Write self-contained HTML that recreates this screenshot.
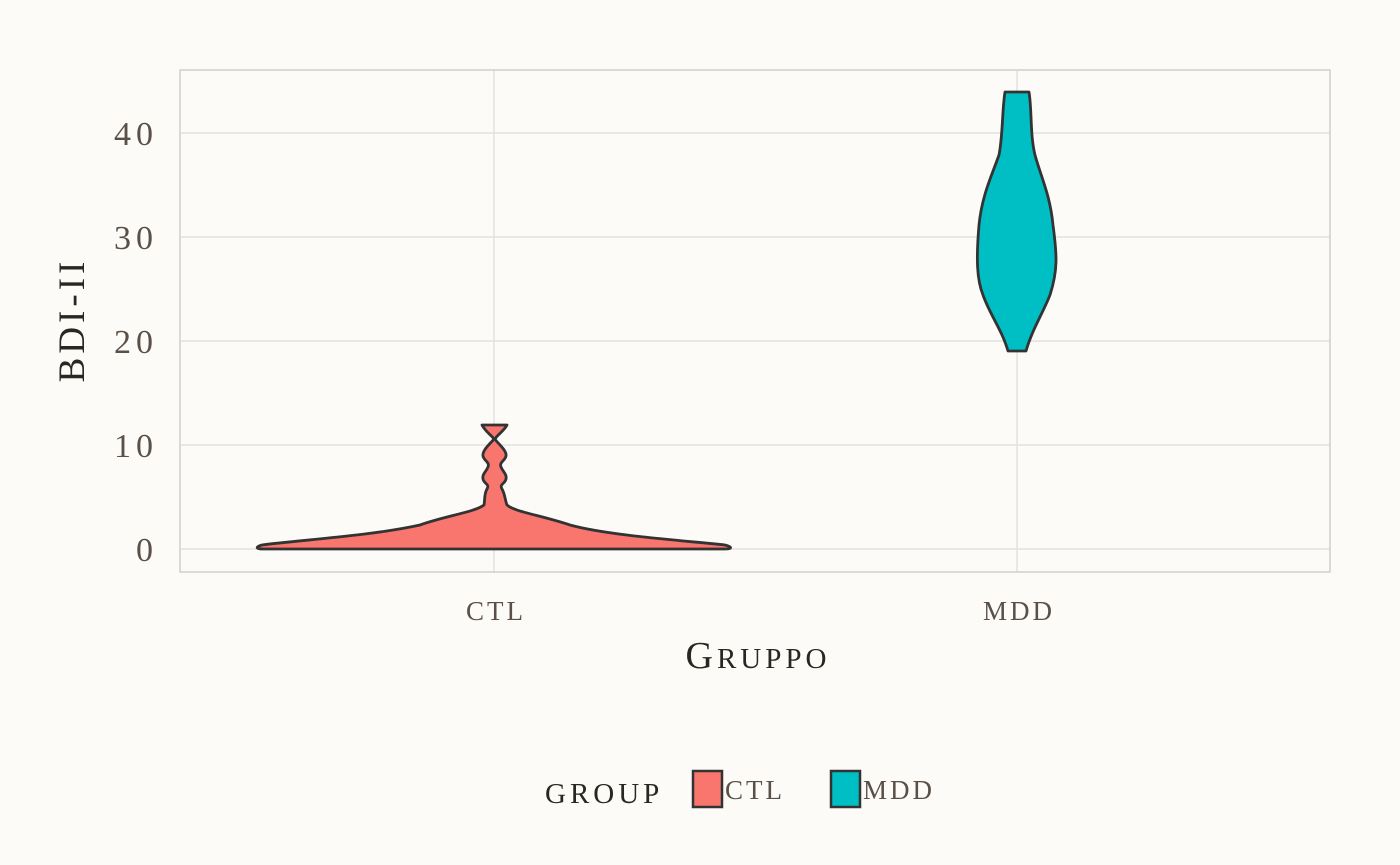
<!DOCTYPE html>
<html><head><style>
html,body{margin:0;padding:0;background:#fcfbf7;}
svg{display:block;}
text{font-family:"Liberation Serif",serif;}
</style></head><body>
<svg width="1400" height="865" xmlns="http://www.w3.org/2000/svg">
<rect width="1400" height="865" fill="#fcfbf7"/>
<g stroke="#e3e2de" stroke-width="1.5">
<line x1="180" x2="1330" y1="549" y2="549"/>
<line x1="180" x2="1330" y1="445" y2="445"/>
<line x1="180" x2="1330" y1="341" y2="341"/>
<line x1="180" x2="1330" y1="237" y2="237"/>
<line x1="180" x2="1330" y1="133" y2="133"/>
<line x1="494" x2="494" y1="70" y2="572"/>
<line x1="1017" x2="1017" y1="70" y2="572"/>
</g>
<rect x="180" y="70" width="1150" height="502" fill="none" stroke="#cfcfcc" stroke-width="1.5"/>
<path d="M482,425 L507,425 C504,431 497,435 495,439 C497,443 507,450 506,456 C505,461 499,462 501,467 C503,472 507,474 506,479 C505,484 499,484 502,489 C505,494 505,500 507,505 C515,512 540,515 570,525 C610,536 690,541 725,545 C733,547 732,549 725,549 L263,549 C256,549 255,547 262,545 C300,540 370,536 420,525 C445,516 475,512 484,505 C485,500 484,494 487,489 C490,484 484,484 483,479 C482,474 486,472 488,467 C490,462 484,461 483,456 C482,450 491,443 494,439 C491,435 485,431 482,425 Z" fill="#f8766d" stroke="#333" stroke-width="2.8" stroke-linejoin="round"/>
<path d="M1005,92 L1029,92 C1032,110 1030,135 1035,155 C1042,180 1050,195 1053,225 C1057,255 1058,270 1050,295 C1042,315 1032,330 1026,351 L1008,351 C1002,330 990,315 983,295 C977,280 976,260 979,225 C982,195 992,175 999,155 C1003,135 1002,110 1005,92 Z" fill="#00bfc4" stroke="#333" stroke-width="2.8" stroke-linejoin="round"/>
<g fill="#5a5048" font-size="34" text-anchor="end" letter-spacing="5">
<text x="158" y="561">0</text>
<text x="158" y="457">10</text>
<text x="158" y="353">20</text>
<text x="158" y="249">30</text>
<text x="158" y="145">40</text>
</g>
<g fill="#5a5048" font-size="27" text-anchor="middle" letter-spacing="3">
<text x="496" y="620">CTL</text>
<text x="1019" y="620">MDD</text>
</g>
<text x="758" y="668" text-anchor="middle" font-size="38" fill="#2a2622" letter-spacing="4">G<tspan font-size="29">RUPPO</tspan></text>
<text transform="translate(84,320) rotate(-90)" text-anchor="middle" font-size="37" fill="#2a2622" letter-spacing="4">BDI-II</text>
<text x="545" y="803" font-size="29" fill="#2a2622" letter-spacing="4">GROUP</text>
<rect x="693" y="771" width="29" height="36" fill="#f8766d" stroke="#333" stroke-width="2.5"/>
<text x="725" y="799" font-size="27" fill="#5a5048" letter-spacing="3">CTL</text>
<rect x="831" y="771" width="29" height="36" fill="#00bfc4" stroke="#333" stroke-width="2.5"/>
<text x="863" y="799" font-size="27" fill="#5a5048" letter-spacing="3">MDD</text>
</svg>
</body></html>
